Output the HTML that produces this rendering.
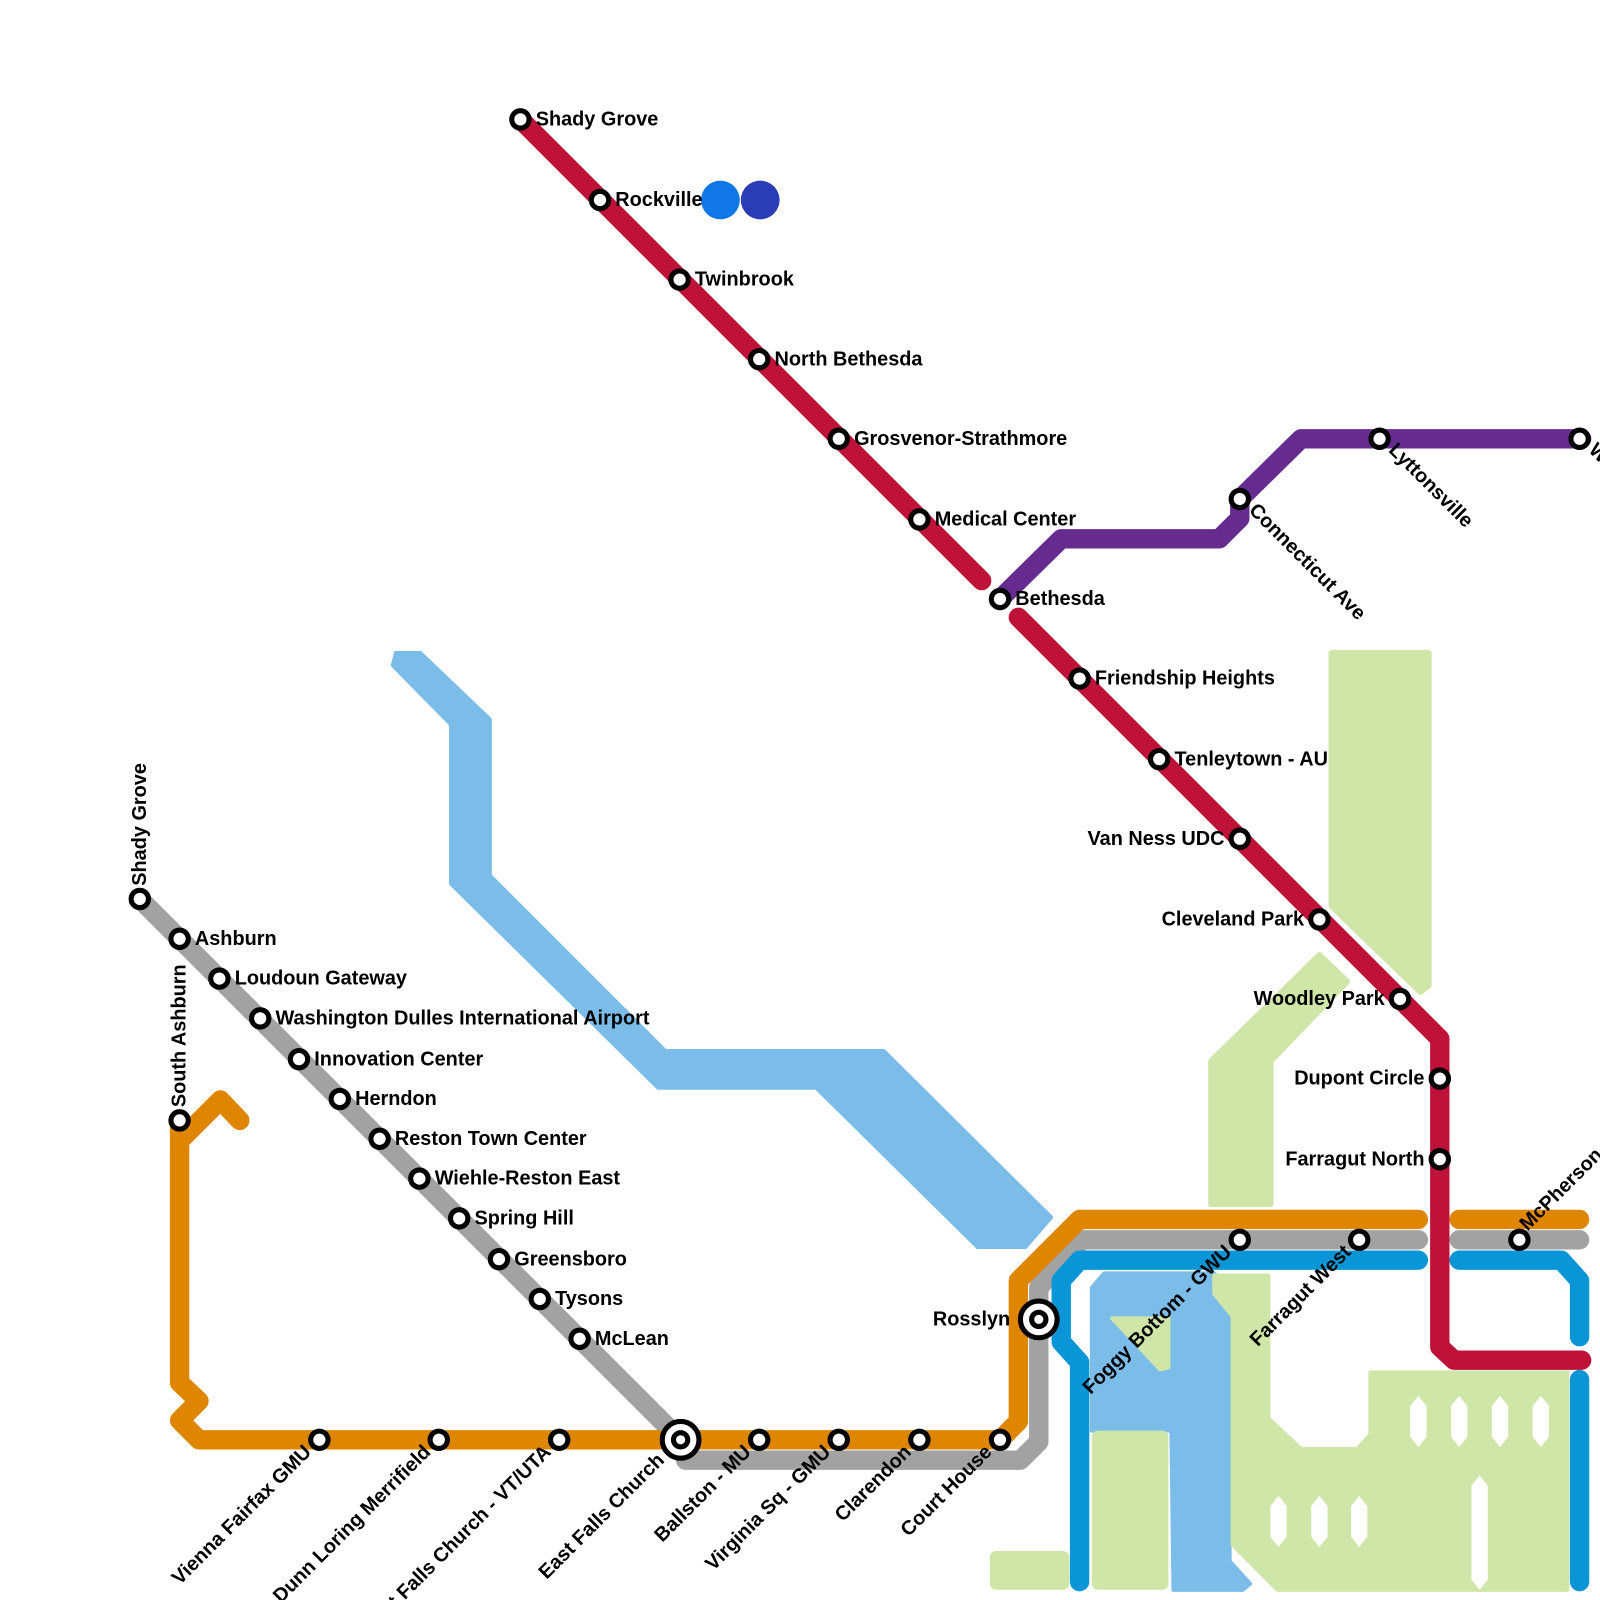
<!DOCTYPE html>
<html><head><meta charset="utf-8"><style>
html,body{margin:0;padding:0;background:#fff}
svg{display:block}
text{font-family:"Liberation Sans",Arial,sans-serif;font-weight:bold;font-size:19.5px;fill:#000}
</style></head><body>
<svg width="1600" height="1600" viewBox="0 0 1568 1568" xmlns="http://www.w3.org/2000/svg">
<path d="M388,640 L412,640 L480,705 L480,858 L652,1030 L866,1030 L1030,1193 L1005,1222 L958,1222 L800,1066 L645,1066 L442,866 L442,710 L385,652 Z" fill="#7bbde8" stroke="#7bbde8" stroke-width="4" stroke-linejoin="round"/>
<path d="M1070,1262 L1082,1248 L1190,1248 L1205,1266 L1205,1530 L1225,1552 L1218,1558 L1150,1558 L1148,1402 L1070,1402 Z" fill="#7bbde8" stroke="#7bbde8" stroke-width="4" stroke-linejoin="round"/>
<path d="M1305,640 L1400,640 L1400,966 L1392,972 L1305,888 Z" fill="#d0e6a8" stroke="#d0e6a8" stroke-width="6" stroke-linejoin="round"/>
<path d="M1187,1040 L1293,936 L1320,962 L1245,1040 L1245,1180 L1187,1180 Z" fill="#d0e6a8" stroke="#d0e6a8" stroke-width="6" stroke-linejoin="round"/>
<path d="M1090,1292 L1145,1292 L1145,1340 L1137,1342 Z" fill="#d0e6a8" stroke="#d0e6a8" stroke-width="4" stroke-linejoin="round"/>
<rect x="1070" y="1402" width="75" height="156" rx="6" fill="#d0e6a8"/>
<rect x="970" y="1520" width="78" height="38" rx="6" fill="#d0e6a8"/>
<path d="M1190,1250 L1243,1250 L1243,1390 L1275,1420 L1330,1420 L1343,1406 L1343,1345 L1536,1345 L1536,1558 L1252,1558 L1208,1514 L1208,1290 L1190,1268 Z" fill="#d0e6a8" stroke="#d0e6a8" stroke-width="4" stroke-linejoin="round"/>
<g fill="#fff">
<path d="M1390,1368 l8,10 v30 l-8,10 l-8,-10 v-30 Z"/>
<path d="M1430,1368 l8,10 v30 l-8,10 l-8,-10 v-30 Z"/>
<path d="M1470,1368 l8,10 v30 l-8,10 l-8,-10 v-30 Z"/>
<path d="M1510,1368 l8,10 v30 l-8,10 l-8,-10 v-30 Z"/>
<path d="M1253,1466 l8,10 v30 l-8,10 l-8,-10 v-30 Z"/>
<path d="M1293,1466 l8,10 v30 l-8,10 l-8,-10 v-30 Z"/>
<path d="M1332,1466 l8,10 v30 l-8,10 l-8,-10 v-30 Z"/>
<path d="M1450,1446 l8,10 v92 l-8,10 l-8,-10 v-92 Z"/>
</g>
<g fill="none" stroke-width="19" stroke-linecap="round" stroke-linejoin="round">
<path d="M137,881 L667,1411 L672,1431 L1000,1431 L1018,1413 L1018,1262 L1060,1215 L1390,1215" stroke="#a2a2a2"/>
<path d="M1430,1215 L1548,1215" stroke="#a2a2a2"/>
<path d="M176,1098 L176,1118 L216,1078 L235,1098 M176,1118 L176,1355 L195,1373 L176,1392 L195,1411 L980,1411 L998,1393 L998,1255 L1058,1195 L1390,1195" stroke="#de8600"/>
<path d="M1430,1195 L1548,1195" stroke="#de8600"/>
<path d="M1058,1550 L1058,1335 L1040,1315 L1040,1255 L1058,1235 L1390,1235" stroke="#0a96d6"/>
<path d="M1430,1235 L1530,1235 L1548,1255 L1548,1310 M1548,1352 L1548,1550" stroke="#0a96d6"/>
<path d="M510,117 L962,569 M998,605 L1411,1018 L1411,1320 L1425,1333 L1550,1333" stroke="#be1238"/>
<path d="M980,587 L1040,528 L1195,528 L1215,508 L1215,489 L1275,430 L1550,430" stroke="#662b8f"/>
</g>
<circle cx="706" cy="196" r="19" fill="#1177e6"/>
<circle cx="745" cy="196" r="19" fill="#2a3db5"/>
<g fill="#fff" stroke="#000" stroke-width="5">
<circle cx="510" cy="117" r="8.5"/><circle cx="588" cy="196" r="8.5"/><circle cx="666" cy="274" r="8.5"/><circle cx="744" cy="352" r="8.5"/><circle cx="822" cy="430" r="8.5"/><circle cx="901" cy="509" r="8.5"/><circle cx="980" cy="587" r="8.5"/><circle cx="1058" cy="665" r="8.5"/><circle cx="1136" cy="744" r="8.5"/><circle cx="1215" cy="822" r="8.5"/><circle cx="1293" cy="901" r="8.5"/><circle cx="1372" cy="979" r="8.5"/><circle cx="1411" cy="1057" r="8.5"/><circle cx="1411" cy="1136" r="8.5"/>
<circle cx="1215" cy="489" r="8.5"/><circle cx="1352" cy="430" r="8.5"/><circle cx="1548" cy="430" r="8.5"/>
<circle cx="137" cy="881" r="8.5"/><circle cx="176" cy="920" r="8.5"/><circle cx="215" cy="959" r="8.5"/><circle cx="255" cy="998" r="8.5"/><circle cx="293" cy="1038" r="8.5"/><circle cx="333" cy="1077" r="8.5"/><circle cx="372" cy="1116" r="8.5"/><circle cx="411" cy="1155" r="8.5"/><circle cx="450" cy="1194" r="8.5"/><circle cx="489" cy="1234" r="8.5"/><circle cx="529" cy="1273" r="8.5"/><circle cx="568" cy="1312" r="8.5"/>
<circle cx="176" cy="1098" r="8.5"/>
<circle cx="313" cy="1411" r="8.5"/><circle cx="430" cy="1411" r="8.5"/><circle cx="548" cy="1411" r="8.5"/><circle cx="744" cy="1411" r="8.5"/><circle cx="822" cy="1411" r="8.5"/><circle cx="901" cy="1411" r="8.5"/><circle cx="980" cy="1411" r="8.5"/>
<circle cx="1215" cy="1215" r="8.5"/><circle cx="1332" cy="1215" r="8.5"/><circle cx="1489" cy="1215" r="8.5"/>
<circle cx="667" cy="1411" r="18"/><circle cx="1018" cy="1293" r="18"/>
<circle cx="667" cy="1411" r="7"/><circle cx="1018" cy="1293" r="7"/>
</g>
<text x="525" y="123">Shady Grove</text>
<text x="603" y="202">Rockville</text>
<text x="681" y="280">Twinbrook</text>
<text x="759" y="358">North Bethesda</text>
<text x="837" y="436">Grosvenor-Strathmore</text>
<text x="916" y="515">Medical Center</text>
<text x="995" y="593">Bethesda</text>
<text x="1073" y="671">Friendship Heights</text>
<text x="1151" y="750">Tenleytown - AU</text>
<g text-anchor="end">
<text x="1200" y="828">Van Ness UDC</text>
<text x="1278" y="907">Cleveland Park</text>
<text x="1357" y="985">Woodley Park</text>
<text x="1396" y="1063">Dupont Circle</text>
<text x="1396" y="1142">Farragut North</text>
<text x="990" y="1299">Rosslyn</text>
</g>
<text x="191" y="926">Ashburn</text>
<text x="230" y="965">Loudoun Gateway</text>
<text x="270" y="1004">Washington Dulles International Airport</text>
<text x="308" y="1044">Innovation Center</text>
<text x="348" y="1083">Herndon</text>
<text x="387" y="1122">Reston Town Center</text>
<text x="426" y="1161">Wiehle-Reston East</text>
<text x="465" y="1200">Spring Hill</text>
<text x="504" y="1240">Greensboro</text>
<text x="544" y="1279">Tysons</text>
<text x="583" y="1318">McLean</text>
<text transform="translate(143,868) rotate(-90)">Shady Grove</text>
<text transform="translate(182,1085) rotate(-90)">South Ashburn</text>
<g text-anchor="end">
<text transform="translate(306,1424) rotate(-45)">Vienna Fairfax GMU</text>
<text transform="translate(423,1424) rotate(-45)">Dunn Loring Merrifield</text>
<text transform="translate(541,1424) rotate(-45)">West Falls Church - VT/UTA</text>
<text transform="translate(652,1432) rotate(-45)">East Falls Church</text>
<text transform="translate(737,1424) rotate(-45)">Ballston - MU</text>
<text transform="translate(815,1424) rotate(-45)">Virginia Sq - GMU</text>
<text transform="translate(894,1424) rotate(-45)">Clarendon</text>
<text transform="translate(973,1424) rotate(-45)">Court House</text>
<text transform="translate(1208,1228) rotate(-45)">Foggy Bottom - GWU</text>
<text transform="translate(1325,1228) rotate(-45)">Farragut West</text>
</g>
<text transform="translate(1497,1207) rotate(-45)">McPherson Square</text>
<text transform="translate(1223,501) rotate(45)">Connecticut Ave</text>
<text transform="translate(1360,442) rotate(45)">Lyttonsville</text>
<text transform="translate(1556,442) rotate(45)">Wheaton</text>
</svg>
</body></html>
